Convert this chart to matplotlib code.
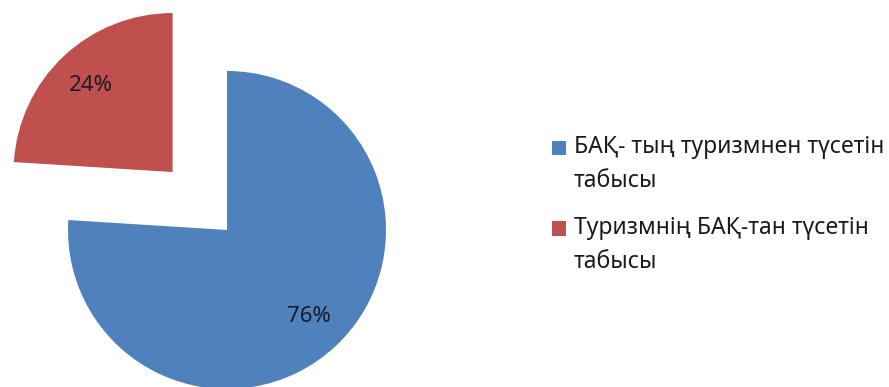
import matplotlib
matplotlib.use("Agg")
import matplotlib.pyplot as plt
from matplotlib.patches import Rectangle
from matplotlib.legend_handler import HandlerPatch

# Revenue shares between media (БАҚ) and tourism
labels = ["БАҚ- тың туризмнен түсетін\nтабысы", "Туризмнің БАҚ-тан түсетін\nтабысы"]
shares = [76, 24]
colors = ["#4F81BD", "#C0504D"]
explode = [0, 0.5]

plt.rcParams["font.family"] = ["Noto Sans", "DejaVu Sans"]

W, H, DPI = 889, 387, 100
R = 159.0          # pie radius in pixels
cx, cy = 227, 230  # pie centre in pixels (from top-left)

LEG_FS = 16.5
LINE_SP = 1.55

fig = plt.figure(figsize=(W / DPI, H / DPI), dpi=DPI)
ax = fig.add_axes([0, 0, 1, 1])

wedges, texts, autotexts = ax.pie(
    shares, colors=colors, explode=explode, startangle=90, counterclock=False,
    autopct="%d%%", pctdistance=0.75, radius=1.0,
    wedgeprops=dict(linewidth=0),
    textprops=dict(fontsize=16, color="#1a1a2a"),
)

ax.set_aspect("auto")
ax.set_xlim(-cx / R, (W - cx) / R)
ax.set_ylim(-(H - cy) / R, cy / R)
ax.axis("off")


def top_line_square(legend, orig_handle, xdescent, ydescent, width, height, fontsize):
    # raise the colour key so it sits beside the first line of a two-line label
    shift = 17 * 72 / DPI
    return Rectangle((-xdescent, -ydescent + shift), width, height)


leg = ax.legend(
    wedges, labels, loc="upper left",
    bbox_to_anchor=(552 / W, 1 - 135 / H), bbox_transform=fig.transFigure,
    frameon=False, fontsize=LEG_FS, handlelength=0.6, handleheight=0.6,
    handletextpad=0.35, labelspacing=1.0, borderpad=0, borderaxespad=0,
    handler_map={w: HandlerPatch(patch_func=top_line_square) for w in wedges},
)
for t in leg.get_texts():
    t.set_color("#1a1a1a")
    t.set_linespacing(LINE_SP)

fig.savefig("out.png", dpi=DPI)
